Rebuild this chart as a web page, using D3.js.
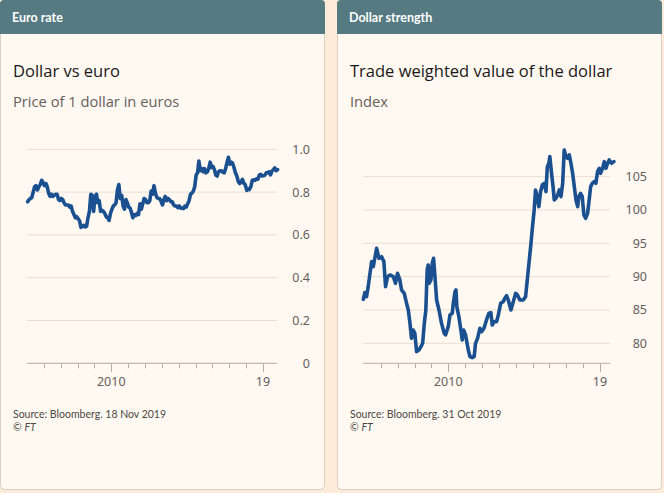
<!DOCTYPE html>
<html><head><meta charset="utf-8">
<script src="https://cdn.jsdelivr.net/npm/d3@7"></script>
<style>
body{margin:0;background:#fcebd9;}
svg{display:block;}
</style></head>
<body>
<svg id="chart" width="664" height="493"></svg>
<script>
// ---------- DATA ----------
// Left panel: price of 1 dollar in euros, monthly (Jan 2005 - Nov 2019)
const euroYears = [2005,2006,2007,2008,2009,2010,2011,2012,2013,2014,2015,2016,2017,2018,2019];
const euroValues = [
  [0.755,0.765,0.77,0.775,0.80,0.825,0.83,0.81,0.825,0.835,0.855,0.845],
  [0.83,0.84,0.825,0.795,0.78,0.79,0.78,0.785,0.79,0.79,0.765,0.76],
  [0.77,0.765,0.75,0.74,0.74,0.74,0.73,0.735,0.71,0.695,0.68,0.685],
  [0.675,0.665,0.635,0.64,0.645,0.637,0.64,0.68,0.71,0.79,0.785,0.71],
  [0.78,0.79,0.75,0.76,0.71,0.715,0.71,0.70,0.685,0.68,0.668,0.70],
  [0.72,0.735,0.74,0.75,0.81,0.835,0.77,0.785,0.735,0.72,0.765,0.75],
  [0.73,0.725,0.705,0.68,0.695,0.69,0.70,0.695,0.745,0.72,0.745,0.77],
  [0.765,0.75,0.75,0.76,0.805,0.79,0.83,0.795,0.775,0.77,0.77,0.757],
  [0.74,0.765,0.78,0.76,0.77,0.765,0.755,0.755,0.74,0.735,0.735,0.727],
  [0.735,0.725,0.725,0.723,0.735,0.73,0.745,0.76,0.79,0.795,0.805,0.825],
  [0.88,0.89,0.945,0.9,0.91,0.895,0.91,0.89,0.895,0.91,0.94,0.915],
  [0.92,0.905,0.88,0.875,0.895,0.9,0.9,0.893,0.89,0.91,0.94,0.963],
  [0.93,0.94,0.935,0.915,0.89,0.875,0.85,0.84,0.847,0.86,0.84,0.835],
  [0.808,0.815,0.812,0.826,0.855,0.857,0.855,0.862,0.86,0.88,0.883,0.875],
  [0.876,0.88,0.89,0.892,0.895,0.88,0.898,0.905,0.913,0.9,0.905]
];
const euroTicks = [0,0.2,0.4,0.6,0.8,1.0];
const euroTickLabels = ["0","0.2","0.4","0.6","0.8","1.0"];

// Right panel: trade weighted value of the dollar (index)
const dollarDates = [2004.96,2005.05,2005.15,2005.25,2005.45,2005.55,2005.75,2005.89,2006.04,2006.18,2006.28,2006.40,2006.54,2006.74,2006.87,2006.99,2007.13,2007.23,2007.39,2007.53,2007.63,2007.73,2007.82,2007.92,2008.02,2008.12,2008.26,2008.38,2008.48,2008.58,2008.67,2008.75,2008.81,2008.87,2008.97,2009.05,2009.13,2009.21,2009.31,2009.45,2009.60,2009.76,2009.84,2010.00,2010.10,2010.24,2010.30,2010.40,2010.46,2010.51,2010.63,2010.75,2010.83,2010.91,2011.03,2011.19,2011.29,2011.42,2011.54,2011.62,2011.74,2011.88,2011.98,2012.12,2012.27,2012.41,2012.53,2012.61,2012.73,2012.87,2012.97,2013.11,2013.26,2013.36,2013.46,2013.56,2013.72,2013.86,2014.00,2014.11,2014.25,2014.45,2014.59,2014.71,2014.81,2014.91,2015.00,2015.10,2015.18,2015.28,2015.38,2015.48,2015.58,2015.70,2015.80,2015.88,2015.97,2016.03,2016.13,2016.23,2016.29,2016.39,2016.49,2016.59,2016.69,2016.79,2016.88,2016.96,2017.08,2017.18,2017.28,2017.38,2017.48,2017.58,2017.68,2017.75,2017.85,2017.95,2018.05,2018.15,2018.27,2018.35,2018.45,2018.55,2018.66,2018.76,2018.86,2018.96,2019.04,2019.16,2019.26,2019.36,2019.46,2019.55,2019.69,2019.83];
const dollarValues = [86.6,87.6,87.0,88.5,92.25,91.5,94.25,92.75,93,92.25,88.5,90,90.25,90,89,90.5,89.5,88,87.5,86,85,83,80.75,82,81.5,78.75,79,79.5,80,83,85,91,91.75,89,89.5,92,92.75,90,86.5,85,83,81.5,81.25,82.5,84.25,84.5,86,87.75,88,85.5,84,82,80.5,82,81.25,79,78,77.85,78,80,80.75,82.25,81.75,82.25,83.5,84.5,84.6,82.75,83.25,83.25,84.25,86,86.25,86.75,87.15,86.5,85,86.25,87.5,87.25,86.5,86.5,87,90,92.5,95,97.5,100,103,102,100.5,102.75,103.75,104,102.75,106.5,107,108,105.5,103.25,101.5,101.75,102.25,103,102,104,109,108.25,107.75,108.25,107,105.5,103.5,101.5,100.5,102,102.5,102,99.25,98.75,99.5,101.25,103.5,104,104.25,104,105.75,106.25,105.5,106.25,107.25,106.25,107,107.5,107,107.25];
const dollarTicks = [80,85,90,95,100,105];
const dollarTickLabels = ["80","85","90","95","100","105"];

const yearTicks = [2006,2007,2008,2009,2010,2011,2012,2013,2014,2015,2016,2017,2018,2019];
const yearLabels = {2010:"2010", 2019:"19"};

const panels = [
  {header:"Euro rate", title:"Dollar vs euro", subtitle:"Price of 1 dollar in euros", source:"Source: Bloomberg. 18 Nov 2019"},
  {header:"Dollar strength", title:"Trade weighted value of the dollar", subtitle:"Index", source:"Source: Bloomberg. 31 Oct 2019"}
];

// ---------- HELPERS ----------
function decYearToDate(y){
  const yr = Math.floor(y);
  const start = new Date(yr,0,1), end = new Date(yr+1,0,1);
  return new Date(start.getTime() + (y-yr)*(end-start));
}
const euroSeries = [];
euroYears.forEach((yr,i)=>euroValues[i].forEach((v,m)=>euroSeries.push({d:new Date(yr,m,15), v})));
const dollarSeries = dollarDates.map((d,i)=>({d:decYearToDate(d), v:dollarValues[i]}));

const svg = d3.select("#chart");
svg.append("rect").attr("width",664).attr("height",493).attr("fill","#fcebd9");

const PX = [0, 337], PW = 325, HEAD = 34;
const C = {head:"#557a81", panel:"#fff9f2", border:"#d9cfc5", grid:"#e9ded3", axis:"#b8aea6", tick:"#66605c", text:"#1a1817", sub:"#66605c", line:"#1a5090"};

panels.forEach((p,i)=>{
  const g = svg.append("g").attr("transform",`translate(${PX[i]},0)`);
  g.append("rect").attr("x",0.5).attr("y",0.5).attr("width",PW-1).attr("height",489).attr("rx",4)
    .attr("fill",C.panel).attr("stroke",C.border);
  g.append("path").attr("d",`M0,${HEAD} V4 Q0,0 4,0 H${PW-4} Q${PW},0 ${PW},4 V${HEAD} Z`).attr("fill",C.head);
  g.append("text").attr("x",12).attr("y",22).text(p.header)
    .attr("font-family","Lato, 'Noto Sans', sans-serif").attr("font-weight","bold").attr("font-size",12.5).attr("fill","#fff");
  g.append("text").attr("x",13).attr("y",77).text(p.title)
    .attr("font-family","'Open Sans', sans-serif").attr("font-size",16.5).attr("fill",C.text);
  g.append("text").attr("x",13).attr("y",107).text(p.subtitle)
    .attr("font-family","'Open Sans', sans-serif").attr("font-size",14.7).attr("fill",C.sub);
  g.append("text").attr("x",13).attr("y",418).text(p.source)
    .attr("font-family","Lato, 'Noto Sans', sans-serif").attr("font-size",10.5).attr("fill","#4d4845");
  const ft = g.append("text").attr("x",13).attr("y",431)
    .attr("font-family","Lato, 'Noto Sans', sans-serif").attr("font-size",10.5).attr("fill","#4d4845");
  ft.append("tspan").text("© ");
  ft.append("tspan").attr("font-style","italic").text("FT");
});

function drawChart(cfg){
  const g = svg.append("g");
  const x = d3.scaleTime().domain([new Date(2005,0,1), new Date(2020,0,1)]).range(cfg.xr);
  const y = d3.scaleLinear().domain(cfg.yd).range([363.3, cfg.yTopPx]);
  g.append("g").selectAll("line").data(cfg.ticks).join("line")
    .attr("x1",cfg.gx[0]).attr("x2",cfg.gx[1]).attr("y1",d=>y(d)).attr("y2",d=>y(d))
    .attr("stroke",C.grid).attr("stroke-width",1);
  g.append("g").selectAll("text").data(cfg.ticks).join("text")
    .attr("x",cfg.labelX).attr("y",d=>y(d)+4.5).attr("text-anchor","end")
    .attr("font-family","'Noto Sans', sans-serif").attr("font-size",12.5).attr("fill",C.tick)
    .text((d,i)=>cfg.tickLabels[i]);
  const axisG = g.append("g").attr("transform","translate(0,363.3)");
  axisG.append("line").attr("x1",cfg.gx[0]).attr("x2",cfg.gx[1]).attr("stroke",C.axis);
  const xt = yearTicks.map(yr=>new Date(yr,0,1));
  axisG.selectAll(".tk").data(xt).join("line").attr("class","tk")
    .attr("x1",d=>Math.round(x(d))+0.5).attr("x2",d=>Math.round(x(d))+0.5)
    .attr("y1",0).attr("y2",d=>yearLabels[d.getFullYear()]?9:5)
    .attr("stroke",C.axis);
  axisG.selectAll(".yl").data(xt.filter(d=>yearLabels[d.getFullYear()])).join("text").attr("class","yl")
    .attr("x",d=>x(d)).attr("y",23).attr("text-anchor","middle")
    .attr("font-family","'Noto Sans', sans-serif").attr("font-size",12.5).attr("fill",C.tick)
    .text(d=>yearLabels[d.getFullYear()]);
  const line = d3.line().x(d=>x(d.d)).y(d=>y(d.v)).curve(d3.curveLinear);
  g.append("path").datum(cfg.data).attr("d",line).attr("fill","none")
    .attr("stroke",C.line).attr("stroke-width",3.6).attr("stroke-linejoin","round").attr("stroke-linecap","round");
}

drawChart({data:euroSeries, xr:[27, 279.75], gx:[27,277], yd:[0,1], yTopPx:149.3, ticks:euroTicks, tickLabels:euroTickLabels, labelX:310});
drawChart({data:dollarSeries, xr:[364, 616.75], gx:[363,610], yd:[77,110], yTopPx:143.3, ticks:dollarTicks, tickLabels:dollarTickLabels, labelX:647});
</script>
</body></html>
